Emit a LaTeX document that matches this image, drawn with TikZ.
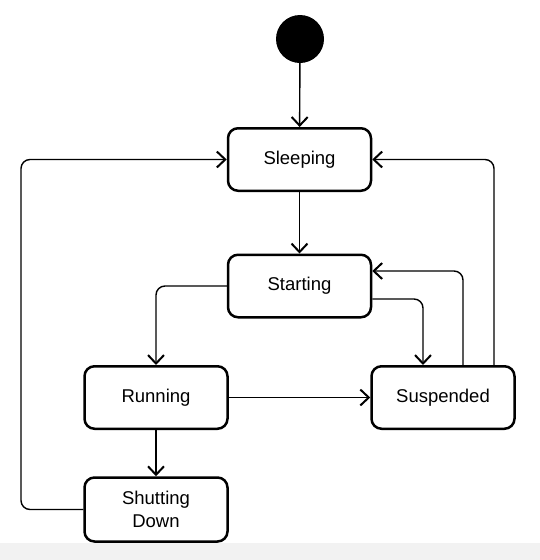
\documentclass[tikz,border=0pt]{standalone}
\usepackage{fontspec}
\setmainfont{Liberation Sans}
\usetikzlibrary{arrows.meta}
\begin{document}
\begin{tikzpicture}[x=1pt,y=-1pt,
  statebox/.style={draw, line width=2.5pt, rounded corners=10pt, fill=white,
    minimum width=143pt, minimum height=62.5pt, inner sep=2pt,
    font=\fontsize{18.5}{23}\selectfont, align=center},
  conn/.style={line width=1.4pt, rounded corners=9pt,
    -{Straight Barb[length=8.5pt,width=16pt,line width=2pt]}}]
\useasboundingbox (0,0) rectangle (540,560);
\fill[white] (0,0) rectangle (540,543);
\fill[black!5] (0,543) rectangle (540,560);
\node[circle, fill=black, minimum size=48pt, inner sep=0pt] (init) at (300,39) {};
\node[statebox] (sleep) at (299.5,159.5) {Sleeping};
\node[statebox] (start) at (299.5,286) {Starting};
\node[statebox] (run) at (156,397.5) {Running};
\node[statebox] (susp) at (443,397.5) {Suspended};
\node[statebox, minimum height=64pt] (shut) at (156,509.5) {Shutting\\Down};
\coordinate (lc) at (21,159.5);
\draw[conn] (init) -- (sleep);
\draw[conn] (sleep) -- (start);
\draw[conn] (start.west) -| (run.north);
\draw[conn] ([yshift=-13pt]start.east) -| ([xshift=-20pt]susp.north);
\draw[conn] ([xshift=20pt]susp.north) |- ([yshift=15pt]start.east);
\draw[conn] ([xshift=51pt]susp.north) |- (sleep.east);
\draw[conn] (run.east) -- (susp.west);
\draw[conn] (run.south) -- (shut.north);
\draw[conn] (shut.west) -| (lc) -- (sleep.west);
\end{tikzpicture}
\end{document}
